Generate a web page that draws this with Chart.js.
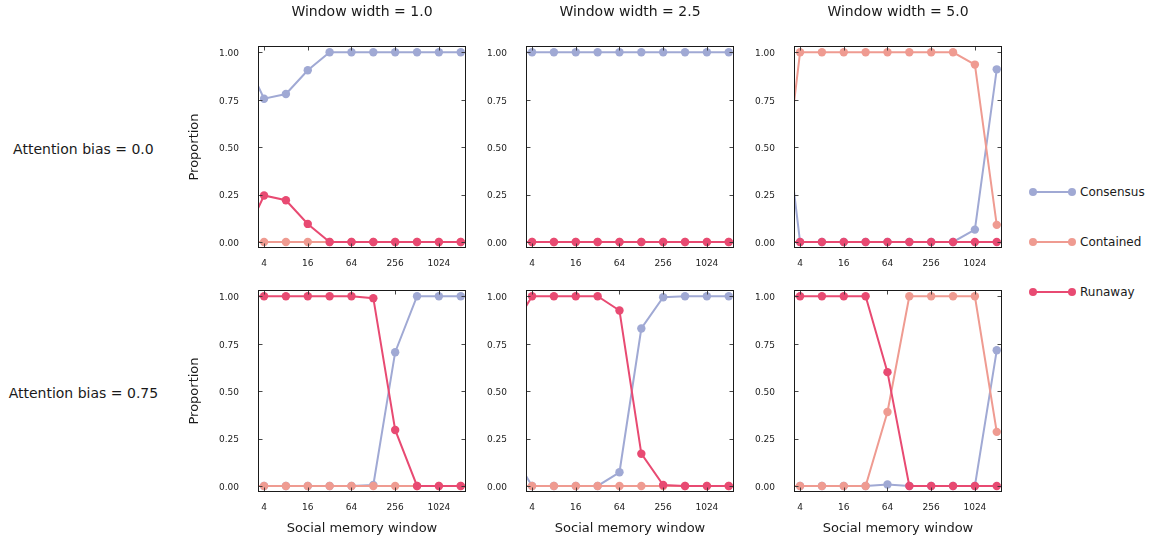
<!DOCTYPE html>
<html>
<head>
<meta charset="utf-8">
<script src="https://cdn.jsdelivr.net/npm/chart.js@4"></script>
<style>
  html, body { margin:0; padding:0; background:#fff; }
  body { width:1150px; height:542px; position:relative; overflow:hidden; font-family:"DejaVu Sans", sans-serif; color:#1a1a1a; }
  canvas { position:absolute; }
  .lbl { position:absolute; transform:translate(-50%,-50%); line-height:1; white-space:nowrap; }
  .leg { position:absolute; font-size:12px; line-height:1; white-space:nowrap; transform:translateY(-50%); }
  .legline { position:absolute; height:2px; }
  .legdot { position:absolute; width:8px; height:8px; border-radius:50%; }
</style>
</head>
<body>
<script>
// ---------- data ----------
const windows = [2, 4, 8, 16, 32, 64, 128, 256, 512, 1024, 2048];
const xTicks = [4, 16, 64, 256, 1024];
const yTicks = [0, 0.25, 0.5, 0.75, 1];
const colTitles = ['Window width = 1.0', 'Window width = 2.5', 'Window width = 5.0'];
const rowTitles = ['Attention bias = 0.0', 'Attention bias = 0.75'];
const seriesNames = ['Consensus', 'Contained', 'Runaway'];
const seriesColors = ['#a0a9d4', '#ef9b91', '#e84a72'];

// Attention bias = 0.0
const consensus_b0_w10 = [1.0, 0.755, 0.78, 0.905, 1, 1, 1, 1, 1, 1, 1];
const contained_b0_w10 = [0, 0, 0, 0, 0, 0, 0, 0, 0, 0, 0];
const runaway_b0_w10   = [0, 0.245, 0.22, 0.095, 0, 0, 0, 0, 0, 0, 0];

const consensus_b0_w25 = [1, 1, 1, 1, 1, 1, 1, 1, 1, 1, 1];
const contained_b0_w25 = [0, 0, 0, 0, 0, 0, 0, 0, 0, 0, 0];
const runaway_b0_w25   = [0, 0, 0, 0, 0, 0, 0, 0, 0, 0, 0];

const consensus_b0_w50 = [0.96, 0, 0, 0, 0, 0, 0, 0, 0, 0.065, 0.91];
const contained_b0_w50 = [0.04, 1, 1, 1, 1, 1, 1, 1, 1, 0.935, 0.09];
const runaway_b0_w50   = [0, 0, 0, 0, 0, 0, 0, 0, 0, 0, 0];

// Attention bias = 0.75
const consensus_b75_w10 = [0, 0, 0, 0, 0, 0, 0.005, 0.705, 1, 1, 1];
const contained_b75_w10 = [0, 0, 0, 0, 0, 0, 0, 0, 0, 0, 0];
const runaway_b75_w10   = [1, 1, 1, 1, 1, 1, 0.99, 0.295, 0, 0, 0];

const consensus_b75_w25 = [0.19, 0, 0, 0, 0, 0.072, 0.83, 0.995, 1, 1, 1];
const contained_b75_w25 = [0, 0, 0, 0, 0, 0, 0, 0, 0, 0, 0];
const runaway_b75_w25   = [0.81, 1, 1, 1, 1, 0.925, 0.17, 0.005, 0, 0, 0];

const consensus_b75_w50 = [0, 0, 0, 0, 0, 0.008, 0, 0, 0, 0, 0.715];
const contained_b75_w50 = [0, 0, 0, 0, 0, 0.39, 1, 1, 1, 1, 0.285];
const runaway_b75_w50   = [1, 1, 1, 1, 1, 0.6, 0, 0, 0, 0, 0];

const panels = [
  [[consensus_b0_w10, contained_b0_w10, runaway_b0_w10],
   [consensus_b0_w25, contained_b0_w25, runaway_b0_w25],
   [consensus_b0_w50, contained_b0_w50, runaway_b0_w50]],
  [[consensus_b75_w10, contained_b75_w10, runaway_b75_w10],
   [consensus_b75_w25, contained_b75_w25, runaway_b75_w25],
   [consensus_b75_w50, contained_b75_w50, runaway_b75_w50]]
];

// ---------- layout ----------
const frameLefts = [258, 526, 794];
const frameTops = [46, 290];
const frameW = 208, frameH = 202;
const yAxisW = 72, xAxisH = 50, padTop = 30, padRight = 16;
const FONT = "'DejaVu Sans', sans-serif";

const framePlugin = {
  id: 'frameTicks',
  afterDraw(chart) {
    const {ctx, chartArea: a, scales} = chart;
    const xs = scales.x, ys = scales.y;
    ctx.save();
    ctx.strokeStyle = '#1a1a1a';
    ctx.lineWidth = 1;
    ctx.strokeRect(a.left + 0.5, a.top + 0.5, a.right - a.left - 1, a.bottom - a.top - 1);
    ctx.lineWidth = 0.9;
    ctx.strokeStyle = '#333';
    const L = 3.5;
    ctx.beginPath();
    xTicks.forEach(v => {
      const px = Math.round(xs.getPixelForValue(v)) + 0.5;
      ctx.moveTo(px, a.bottom - 1); ctx.lineTo(px, a.bottom - 1 - L);
      ctx.moveTo(px, a.top + 1); ctx.lineTo(px, a.top + 1 + L);
    });
    yTicks.forEach(v => {
      const py = Math.round(ys.getPixelForValue(v)) + 0.5;
      ctx.moveTo(a.left + 1, py); ctx.lineTo(a.left + 1 + L, py);
      ctx.moveTo(a.right - 1, py); ctx.lineTo(a.right - 1 - L, py);
    });
    ctx.stroke();
    ctx.restore();
  }
};

function makePanel(r, c) {
  const cv = document.createElement('canvas');
  const W = yAxisW + frameW + padRight, H = padTop + frameH + xAxisH;
  cv.width = W; cv.height = H;
  cv.style.left = (frameLefts[c] - yAxisW) + 'px';
  cv.style.top = (frameTops[r] - padTop) + 'px';
  cv.style.width = W + 'px'; cv.style.height = H + 'px';
  document.body.appendChild(cv);
  const series = panels[r][c];
  const orders = [3, 2, 1];
  const datasets = series.map((vals, i) => ({
    label: seriesNames[i],
    data: windows.map((w, k) => ({x: w, y: vals[k]})),
    borderColor: seriesColors[i],
    backgroundColor: seriesColors[i],
    pointBackgroundColor: seriesColors[i],
    pointBorderColor: seriesColors[i],
    pointBorderWidth: 0,
    pointRadius: 4.2,
    borderWidth: 2,
    tension: 0,
    order: orders[i],
    clip: 0
  }));
  new Chart(cv, {
    type: 'line',
    data: {datasets},
    options: {
      responsive: false,
      animation: false,
      devicePixelRatio: 1,
      layout: {padding: {top: padTop, right: padRight, left: 0, bottom: 0}},
      plugins: {legend: {display: false}, tooltip: {enabled: false}},
      events: [],
      scales: {
        x: {
          type: 'logarithmic',
          position: 'bottom',
          min: 3.3, max: 2420,
          afterBuildTicks: s => { s.ticks = xTicks.map(v => ({value: v})); },
          afterFit: s => { s.height = xAxisH; },
          grid: {display: false, drawTicks: false},
          border: {display: false},
          ticks: {
            autoSkip: false, maxRotation: 0, padding: 10,
            color: '#222', font: {family: FONT, size: 9},
            callback: v => String(v)
          },
          title: {
            display: r === 1, text: 'Social memory window',
            color: '#1a1a1a', font: {family: FONT, size: 13},
            padding: {top: 0, bottom: 6}
          }
        },
        y: {
          type: 'linear',
          position: 'left',
          min: -0.032, max: 1.033,
          afterBuildTicks: s => { s.ticks = yTicks.map(v => ({value: v})); },
          afterFit: s => { s.width = yAxisW; },
          grid: {display: false, drawTicks: false},
          border: {display: false},
          ticks: {
            padding: 19, labelOffset: 1.5,
            color: '#222', font: {family: FONT, size: 9},
            callback: v => Number(v).toFixed(2)
          },
          title: {
            display: c === 0, text: 'Proportion',
            color: '#1a1a1a', font: {family: FONT, size: 13},
            padding: {top: 1, bottom: 0}
          }
        }
      }
    },
    plugins: [framePlugin]
  });
}

for (let r = 0; r < 2; r++) for (let c = 0; c < 3; c++) makePanel(r, c);

function addLabel(text, x, y, size) {
  const d = document.createElement('div');
  d.className = 'lbl';
  d.style.left = x + 'px'; d.style.top = y + 'px'; d.style.fontSize = size + 'px';
  d.textContent = text;
  document.body.appendChild(d);
}
colTitles.forEach((t, c) => addLabel(t, frameLefts[c] + frameW / 2, 10.7, 14));
rowTitles.forEach((t, r) => addLabel(t, 83.4, frameTops[r] + frameH / 2 + 1.7, 14));

// legend
const legendY = [191.7, 241.7, 291.7];
seriesNames.forEach((name, i) => {
  const y = legendY[i];
  const line = document.createElement('div');
  line.className = 'legline';
  line.style.left = '1032.7px'; line.style.width = '39px';
  line.style.top = (y - 1) + 'px'; line.style.background = seriesColors[i];
  document.body.appendChild(line);
  [1032.7, 1071.7].forEach(cx => {
    const d = document.createElement('div');
    d.className = 'legdot';
    d.style.left = (cx - 4) + 'px'; d.style.top = (y - 4) + 'px';
    d.style.background = seriesColors[i];
    document.body.appendChild(d);
  });
  const t = document.createElement('div');
  t.className = 'leg';
  t.style.left = '1080px'; t.style.top = y + 'px';
  t.textContent = name;
  document.body.appendChild(t);
});
</script>
</body>
</html>
